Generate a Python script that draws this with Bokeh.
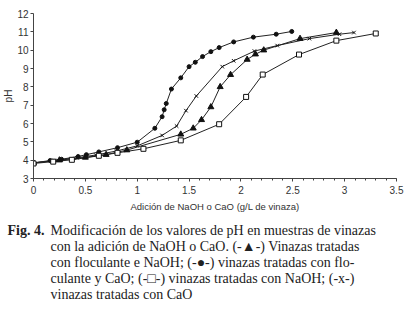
from bokeh.plotting import figure
from bokeh.models import FixedTicker, Range1d
from bokeh.layouts import column
from bokeh.core.properties import value
from bokeh.embed import file_html
from bokeh.resources import INLINE

# Data
tri_x = [0, 0.25, 0.5, 0.7, 0.9, 1.42, 1.54, 1.62, 1.71, 1.80, 1.90, 2.06, 2.14, 2.22, 2.57, 2.92]
tri_y = [3.85, 4.0, 4.15, 4.3, 4.55, 5.41, 5.74, 6.2, 6.9, 8.0, 8.66, 9.49, 9.78, 10.0, 10.63, 10.96]

dot_x = [0, 0.16, 0.27, 0.43, 0.51, 0.63, 0.81, 1.0, 1.17, 1.24, 1.26, 1.28, 1.33, 1.42, 1.50, 1.56, 1.63, 1.71, 1.79, 1.93, 2.12, 2.34, 2.49]
dot_y = [3.85, 3.98, 4.05, 4.2, 4.3, 4.45, 4.68, 4.98, 5.74, 6.37, 6.75, 7.09, 7.88, 8.49, 9.1, 9.34, 9.65, 9.92, 10.14, 10.45, 10.71, 10.87, 11.02]

sq_x = [0, 0.19, 0.37, 0.63, 0.81, 1.06, 1.42, 1.79, 2.05, 2.21, 2.56, 2.92, 3.30]
sq_y = [3.82, 3.92, 4.02, 4.24, 4.4, 4.62, 5.08, 5.96, 7.45, 8.67, 9.76, 10.52, 10.91]

cx_x = [0, 0.2, 0.42, 0.6, 0.8, 1.0, 1.24, 1.38, 1.47, 1.57, 1.82, 1.93, 2.13, 2.35, 2.66, 2.95, 3.09]
cx_y = [3.85, 3.98, 4.13, 4.28, 4.5, 4.78, 5.35, 5.86, 6.7, 7.5, 9.1, 9.42, 9.95, 10.25, 10.63, 10.87, 10.96]

x_ticks = [0, 0.5, 1, 1.5, 2, 2.5, 3, 3.5]
y_ticks = [3, 4, 5, 6, 7, 8, 9, 10, 11, 12]

x_label = "Adición de NaOH o CaO (g/L de vinaza)"
y_label = "pH"

caption_head = "Fig. 4."
caption_lines = [
    "Modificación de los valores de pH en muestras de vinazas",
    "con la adición de NaOH o CaO. (-▲-) Vinazas tratadas",
    "con floculante e NaOH; (-●-) vinazas tratadas con flo-",
    "culante y CaO; (-□-) vinazas tratadas con NaOH; (-x-)",
    "vinazas tratadas con CaO",
]

W = 413
H_PLOT = 215
H_CAP = 311 - H_PLOT

p = figure(width=W, height=H_PLOT, output_backend="svg", toolbar_location=None,
           x_range=Range1d(0, 3.5), y_range=Range1d(3, 12),
           min_border_left=33, min_border_right=17, min_border_top=13,
           min_border_bottom=37)
p.outline_line_color = None
p.grid.visible = False
p.frame_align = False

line_col = "#222222"
p.line(tri_x, tri_y, line_color=line_col, line_width=1)
p.line(dot_x, dot_y, line_color=line_col, line_width=1)
p.line(sq_x, sq_y, line_color=line_col, line_width=1)
p.line(cx_x, cx_y, line_color=line_col, line_width=1)

p.scatter(tri_x, tri_y, marker="triangle", size=6, fill_color="#111111", line_color="#111111")
p.scatter(dot_x, dot_y, marker="circle", size=4, fill_color="#111111", line_color="#111111")
p.scatter(cx_x, cx_y, marker="x", size=5, line_color="#111111", line_width=1)
p.scatter(sq_x, sq_y, marker="square", size=5, fill_color="white", line_color="#111111", line_width=1)

for ax in (p.xaxis[0], p.yaxis[0]):
    ax.axis_line_color = "#444444"
    ax.major_tick_line_color = "#444444"
    ax.minor_tick_line_color = "#444444"
    ax.major_label_text_font = "Liberation Sans"
    ax.major_label_text_font_size = "10px"
    ax.major_label_text_color = "#333333"
    ax.axis_label_text_font = "Liberation Sans"
    ax.axis_label_text_font_style = "normal"
    ax.axis_label_text_color = "#333333"
    ax.major_tick_in = 0
    ax.major_tick_out = 3
    ax.minor_tick_in = 0

p.xaxis.ticker = FixedTicker(ticks=x_ticks, minor_ticks=[i / 10 for i in range(0, 36)])
p.xaxis.minor_tick_out = 2
p.xaxis.major_label_standoff = 4
p.xaxis.axis_label = x_label
p.xaxis.axis_label_text_font_size = "9.5px"
p.xaxis.axis_label_standoff = 4
p.xaxis.major_label_overrides = {0: "0", 1: "1", 2: "2", 3: "3"}

p.yaxis.ticker = FixedTicker(ticks=y_ticks, minor_ticks=[])
p.yaxis.minor_tick_out = 0
p.yaxis.major_label_standoff = 2
p.yaxis.axis_label = y_label
p.yaxis.axis_label_text_font_size = "10px"
p.yaxis.axis_label_standoff = 0

# Caption panel (pixel coordinates, y downward)
cap = figure(width=W, height=H_CAP, output_backend="svg", toolbar_location=None,
             x_range=Range1d(0, W), y_range=Range1d(H_CAP, 0),
             min_border=0, min_border_left=0, min_border_right=0,
             min_border_top=0, min_border_bottom=0)
cap.axis.visible = False
cap.grid.visible = False
cap.outline_line_color = None
cap.frame_align = False

line_mid = [15, 31, 47, 63, 79]
cap.text(x=[7], y=[line_mid[0]], text=[caption_head],
         text_font=value("Liberation Serif"), text_font_size="14px",
         text_font_style="bold", text_baseline="middle", text_color="#222222")
cap.text(x=[50] * len(caption_lines), y=line_mid[:len(caption_lines)], text=caption_lines,
         text_font=value("Liberation Serif"), text_font_size="14px",
         text_baseline="middle", text_color="#222222")

layout = column(p, cap, spacing=0)
open("out.html", "w").write(file_html(layout, INLINE))
